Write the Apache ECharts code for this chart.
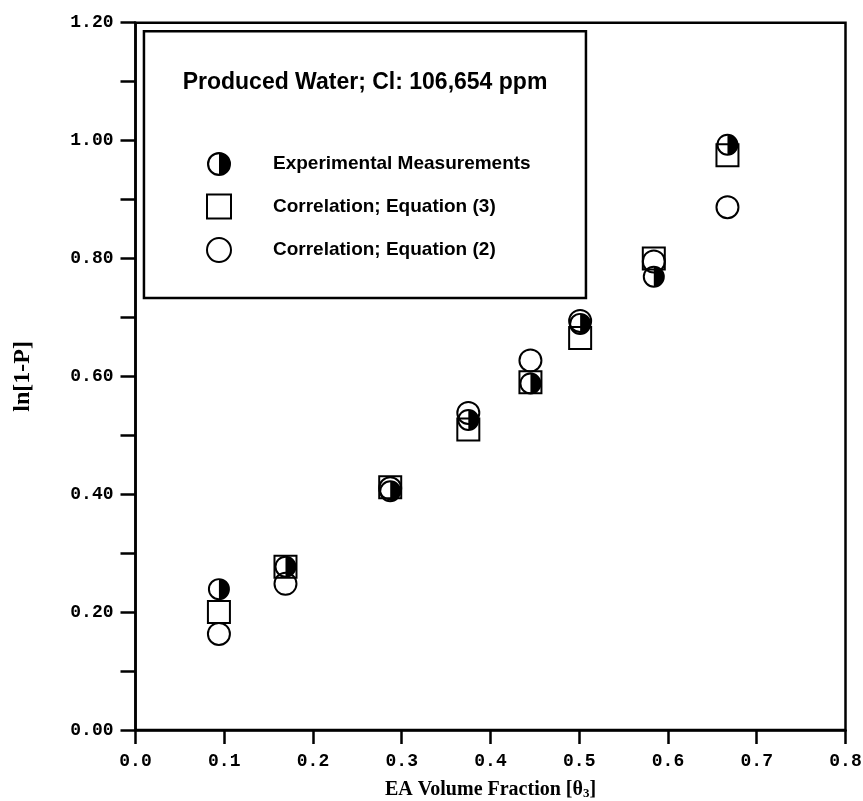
<!DOCTYPE html>
<html>
<head>
<meta charset="utf-8">
<script src="https://cdn.jsdelivr.net/npm/echarts@6/dist/echarts.min.js"></script>
<style>
  html, body { margin: 0; padding: 0; background: #fff; }
  #chart { width: 863px; height: 801px; }
</style>
</head>
<body>
<div id="chart"></div>
<script>
// EA volume fraction for each sample
const xFraction = [0.094, 0.169, 0.287, 0.375, 0.445, 0.501, 0.584, 0.667];
// ln[1-P] values
const expMeasured = [0.239, 0.277, 0.405, 0.526, 0.588, 0.689, 0.769, 0.993];
const eq3Values   = [0.200, 0.277, 0.412, 0.510, 0.590, 0.665, 0.800, 0.975];
const eq2Values   = [0.163, 0.248, 0.410, 0.538, 0.627, 0.694, 0.795, 0.887];

const seriesNames = ['Experimental Measurements', 'Correlation; Equation (3)', 'Correlation; Equation (2)'];
const boxTitle = 'Produced Water; Cl: 106,654 ppm';

// Circle with a solid right half and an outlined left half
const halfFilled = 'path://M10,0A10,10 0 1,1 10,20A10,10 0 1,1 10,0ZM10,1.8A8.2,8.2 0 0,0 10,18.2Z';

const pairs = (ys) => xFraction.map((x, i) => [x, ys[i]]);

const tickFont = { fontFamily: 'Liberation Mono', fontWeight: 'bold', fontSize: 18, color: '#000' };
const axisStroke = { color: '#000', width: 2.5 };
const openMark = { color: 'transparent', borderColor: '#000', borderWidth: 2, opacity: 1 };

const chart = echarts.init(document.getElementById('chart'), null, { renderer: 'canvas' });

chart.setOption({
  backgroundColor: '#fff',
  animation: false,
  grid: {
    left: 135.5, right: 17.5, top: 22.7, bottom: 71,
    containLabel: false, outerBoundsMode: 'none',
    show: true, borderColor: '#000', borderWidth: 2.5, backgroundColor: 'transparent'
  },
  xAxis: {
    type: 'value', min: 0, max: 0.8, interval: 0.1,
    name: 'EA Volume Fraction [θ{sub|3}]',
    nameLocation: 'middle', nameGap: 49,
    nameTextStyle: {
      fontFamily: 'Liberation Serif', fontWeight: 'bold', fontSize: 20, color: '#000',
      rich: { sub: { fontFamily: 'Liberation Serif', fontWeight: 'bold', fontSize: 13, verticalAlign: 'bottom', padding: [8, 0, 0, 0] } }
    },
    axisLine: { show: true, lineStyle: axisStroke },
    axisTick: { show: true, inside: false, length: 14, lineStyle: axisStroke },
    axisLabel: Object.assign({ margin: 22, formatter: v => v.toFixed(1) }, tickFont),
    splitLine: { show: false }
  },
  yAxis: {
    type: 'value', min: 0, max: 1.2, interval: 0.1,
    name: 'ln[1-P]',
    nameLocation: 'middle', nameGap: 101, nameRotate: 90,
    nameTextStyle: { fontFamily: 'Liberation Serif', fontWeight: 'bold', fontSize: 24, color: '#000' },
    axisLine: { show: true, lineStyle: axisStroke },
    axisTick: { show: true, inside: false, length: 15, lineStyle: axisStroke },
    axisLabel: Object.assign({
      margin: 22,
      formatter: v => (Math.round(v * 10) % 2 === 0 ? v.toFixed(2) : '')
    }, tickFont),
    splitLine: { show: false }
  },
  legend: {
    orient: 'vertical', left: 201, top: 147,
    itemWidth: 24, itemHeight: 24, itemGap: 17.5,
    selectedMode: false,
    textStyle: {
      fontFamily: 'Liberation Sans', fontWeight: 'bold', fontSize: 19, color: '#000',
      padding: [0, 0, 0, 37]
    },
    data: [
      { name: seriesNames[0], icon: halfFilled, itemStyle: { color: '#000', borderWidth: 0, opacity: 1 } },
      { name: seriesNames[1], icon: 'rect', itemStyle: openMark },
      { name: seriesNames[2], icon: 'circle', itemStyle: openMark }
    ]
  },
  graphic: [
    {
      type: 'rect', left: 142.7, top: 30, z: 50,
      shape: { width: 442, height: 266.7 },
      style: { fill: 'transparent', stroke: '#000', lineWidth: 2.5 }
    },
    {
      type: 'text', x: 365, y: 83, z: 51,
      style: {
        text: boxTitle, align: 'center', verticalAlign: 'middle',
        fontFamily: 'Liberation Sans', fontWeight: 'bold', fontSize: 23, fill: '#000'
      }
    }
  ],
  series: [
    {
      name: seriesNames[1], type: 'scatter', data: pairs(eq3Values),
      symbol: 'rect', symbolSize: 22,
      itemStyle: openMark
    },
    {
      name: seriesNames[2], type: 'scatter', data: pairs(eq2Values),
      symbol: 'circle', symbolSize: 22,
      itemStyle: openMark
    },
    {
      name: seriesNames[0], type: 'scatter', data: pairs(expMeasured),
      symbol: halfFilled, symbolSize: 22,
      itemStyle: { color: '#000', borderWidth: 0, opacity: 1 }
    }
  ]
});
</script>
</body>
</html>
